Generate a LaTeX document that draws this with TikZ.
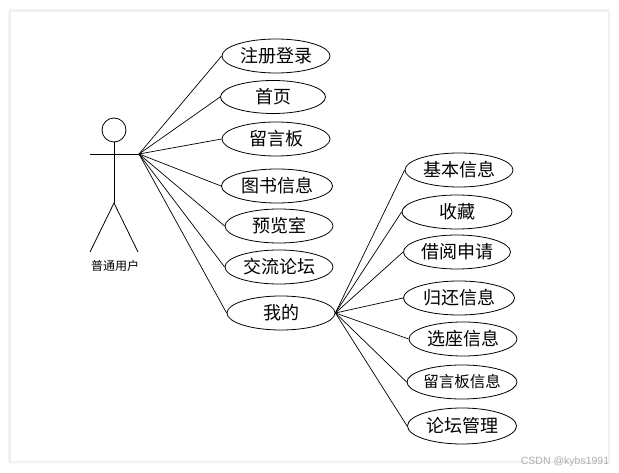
\documentclass[tikz,border=0pt]{standalone}
\usepackage{fontspec}
\setmainfont{Liberation Sans}
\newfontfamily\cjk{Noto Sans CJK SC}
\usepackage{tikz}
\usetikzlibrary{shapes.geometric,shadows.blur}

\begin{document}
\begin{tikzpicture}[
  x=1pt,y=-1pt,line width=.8pt,
  usecase/.style={ellipse,draw,fill=white,minimum width=108pt,minimum height=34pt,
    inner sep=0pt,font=\cjk\fontsize{18}{18}\selectfont},
  assoc/.style={line width=.7pt}]
\useasboundingbox (0,0) rectangle (619,473);
\fill[white,draw=black!6,blur shadow={shadow xshift=0pt,shadow yshift=0pt,
  shadow blur radius=3pt,shadow opacity=18}] (10,11) rectangle (608,461);
% actor
\draw (114,130) circle[radius=12];
\draw (114,142)--(114,203);
\draw (90,154)--(139,154);
\draw (90,252)--(114,203)--(138,252);
\coordinate (hand) at (139,154);
\node[font=\cjk\fontsize{12}{12}\selectfont] (user) at (115,266) {普通用户};
% left column
\node[usecase] (login) at (276,56) {注册登录};
\node[usecase,minimum width=105pt,minimum height=33pt] (home) at (273,97) {首页};
\node[usecase] (board) at (276,139) {留言板};
\node[usecase,minimum width=111pt] (books) at (277,186) {图书信息};
\node[usecase] (preview) at (279,226) {预览室};
\node[usecase] (forum) at (279,267) {交流论坛};
\node[usecase] (mine) at (281,313) {我的};
% right column
\node[usecase] (basic) at (459,170) {基本信息};
\node[usecase,minimum width=110pt] (fav) at (457,212) {收藏};
\node[usecase,minimum width=107pt] (borrow) at (457,252) {借阅申请};
\node[usecase,minimum width=111pt] (return) at (459,298) {归还信息};
\node[usecase] (seat) at (463,339) {选座信息};
\node[usecase,minimum width=110pt,font=\cjk\fontsize{15.5}{16}\selectfont] (msg) at (462,382) {留言板信息};
\node[usecase,minimum width=109pt,minimum height=36pt] (manage) at (462,426) {论坛管理};
% watermark
\node[text=black!32,font=\fontsize{10.5}{11}\selectfont] (mark) at (565,462) {CSDN @kybs1991};
% associations
\draw[assoc] (hand)--(login.west);
\draw[assoc] (hand)--(home.west);
\draw[assoc] (hand)--(board.west);
\draw[assoc] (hand)--(books.west);
\draw[assoc] (hand)--(preview.west);
\draw[assoc] (hand)--(forum.west);
\draw[assoc] (hand)--(mine.west);
\draw[assoc] (mine.east)--(basic.west);
\draw[assoc] (mine.east)--(fav.west);
\draw[assoc] (mine.east)--(borrow.west);
\draw[assoc] (mine.east)--(return.west);
\draw[assoc] (mine.east)--(seat.west);
\draw[assoc] (mine.east)--(msg.west);
\draw[assoc] (mine.east)--(manage.west);
\end{tikzpicture}
\end{document}
